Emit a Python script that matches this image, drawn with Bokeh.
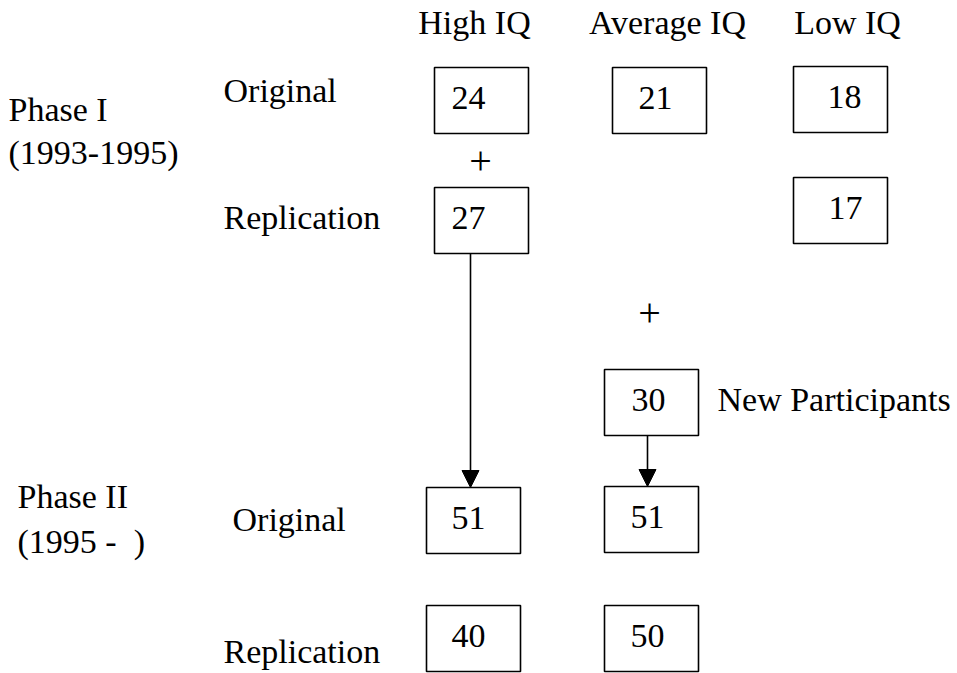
from bokeh.plotting import figure
from bokeh.models import Range1d, ColumnDataSource, Arrow, NormalHead
from bokeh.core.properties import value
from bokeh.embed import file_html
from bokeh.resources import INLINE

# ---------------- data ----------------
groups = ["High IQ", "Average IQ", "Low IQ"]
phase1_original = [24, 21, 18]
phase1_replication = [27, None, 17]
new_participants = [None, 30, None]
phase2_original = [51, 51, None]
phase2_replication = [40, 50, None]
phase_labels = ["Phase I", "(1993-1995)", "Phase II", "(1995 -\u00a0\u00a0)"]
row_labels = ["Original", "Replication", "Original", "Replication"]
new_label = "New Participants"

# ---------------- layout (pixel space of the page) ----------------
FONT = value("Liberation Serif")
FS = "34px"
SH = -11  # baseline correction for rendered text
BW, BH = 94, 66
header_x = [474, 667, 847]
header_y = 33
# box centres per row, per group: (cx, cy, number_cx)
rows = [
    (phase1_original,    [(481, 100, 468), (659, 100, 655), (840, 99, 844)]),
    (phase1_replication, [(481, 220, 468), None,            (840, 210, 845)]),
    (new_participants,   [None,            (651, 402, 648), None]),
    (phase2_original,    [(473, 520, 468), (651, 519, 647), None]),
    (phase2_replication, [(473, 638, 468), (651, 638, 647), None]),
]
phase_pos = [(8, 120), (8, 163), (17, 507), (17, 552)]
row_pos = [(223, 101), (223, 228), (232, 530), (223, 662)]
new_pos = (717, 410)
plus_pos = [(480, 160), (649, 312)]

W, H = 957, 673
p = figure(width=W, height=H, x_range=Range1d(0, W), y_range=Range1d(H, 0),
           output_backend="svg", toolbar_location=None, min_border=0)
p.axis.visible = False
p.grid.visible = False
p.outline_line_color = None
p.background_fill_color = "white"

left, right, top, bottom, nx, ny, nt = [], [], [], [], [], [], []
for vals, pos in rows:
    for v, ps in zip(vals, pos):
        if v is None or ps is None:
            continue
        cx, cy, tx = ps
        left.append(cx - BW / 2); right.append(cx + BW / 2)
        top.append(cy - BH / 2); bottom.append(cy + BH / 2)
        nx.append(tx); ny.append(cy + 8 + SH); nt.append(str(v))

p.quad(left=left, right=right, top=top, bottom=bottom, fill_color=None,
       line_color="black", line_width=1.6)
p.text(x=nx, y=ny, text=nt, text_font=FONT, text_font_size=FS,
       text_align="center", text_baseline="alphabetic", text_color="black")

# headers
p.text(x=header_x, y=[header_y + SH] * 3, text=groups, text_font=FONT, text_font_size=FS,
       text_align="center", text_baseline="alphabetic", text_color="black")
# phase labels
p.text(x=[a for a, b in phase_pos], y=[b + SH for a, b in phase_pos], text=phase_labels,
       text_font=FONT, text_font_size=FS, text_align="left", text_baseline="alphabetic",
       text_color="black")
p.text(x=[a for a, b in row_pos], y=[b + SH for a, b in row_pos], text=row_labels,
       text_font=FONT, text_font_size=FS, text_align="left", text_baseline="alphabetic",
       text_color="black")
p.text(x=[new_pos[0]], y=[new_pos[1] + SH], text=[new_label], text_font=FONT,
       text_font_size=FS, text_align="left", text_baseline="alphabetic", text_color="black")
p.text(x=[a for a, b in plus_pos], y=[b for a, b in plus_pos], text=["+", "+"],
       text_font=FONT, text_font_size="40px", text_align="center", text_baseline="middle",
       text_color="black")

# arrows: from bottom of a box to top of another
arrow_x = [470, 647]
src_boxes = [rows[1][1][0], rows[2][1][1]]
dst_boxes = [rows[3][1][0], rows[3][1][1]]
asrc = ColumnDataSource(dict(
    x0=arrow_x, x1=arrow_x,
    y0=[b[1] + BH / 2 for b in src_boxes],
    y1=[b[1] - BH / 2 for b in dst_boxes]))
p.add_layout(Arrow(end=NormalHead(size=17, fill_color="black", line_color="black"),
                   x_start="x0", y_start="y0", x_end="x1", y_end="y1", source=asrc,
                   line_color="black", line_width=1.6))

open("out.html", "w").write(file_html(p, INLINE))
